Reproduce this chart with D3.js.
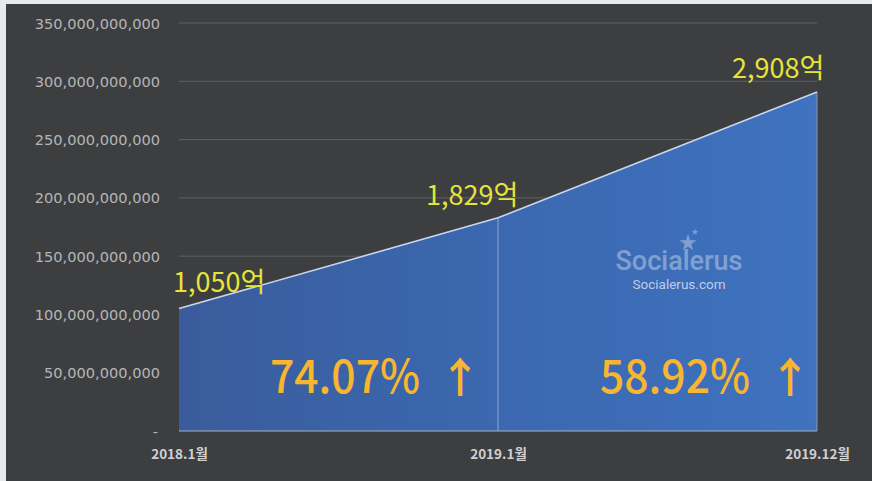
<!DOCTYPE html>
<html>
<head>
<meta charset="utf-8">
<script src="https://cdn.jsdelivr.net/npm/d3@7"></script>
<style>
  html, body { margin: 0; padding: 0; background: #e8e9eb; }
  svg { display: block; }
</style>
</head>
<body>
<svg id="chart" width="872" height="481"></svg>
<script>
// Monthly totals (KRW)
const categories = ["2018.1월", "2019.1월", "2019.12월"];
const values = [105000000000, 182900000000, 290800000000];
const valueLabels = ["1,050억", "1,829억", "2,908억"];
const growthLabels = ["74.07%", "58.92%"];
const yTicks = [0, 50000000000, 100000000000, 150000000000, 200000000000, 250000000000, 300000000000, 350000000000];

const svg = d3.select("#chart");
const W = 872, H = 481;

// dark panel
svg.append("rect").attr("x", 6).attr("y", 4).attr("width", W - 6).attr("height", H - 4).attr("fill", "#3d3e40");

const x = d3.scalePoint().domain(categories).range([179, 817]);
const y = d3.scaleLinear().domain([0, 350000000000]).range([431, 23]);

const fmt = d3.format(",");

// gridlines
svg.append("g").selectAll("line").data(yTicks.filter(d => d > 0)).join("line")
  .attr("x1", 179).attr("x2", 817)
  .attr("y1", d => y(d)).attr("y2", d => y(d))
  .attr("stroke", "#5f6062").attr("stroke-width", 1);

// y-axis labels
const yAxis = d3.axisLeft(y).tickValues(yTicks).tickSize(0).tickPadding(0)
  .tickFormat(d => d === 0 ? "-" : fmt(d));
const ya = svg.append("g").attr("transform", "translate(160,0)").call(yAxis);
ya.select(".domain").remove();
ya.selectAll("text")
  .attr("fill", "#b4b5b7")
  .attr("font-family", "'DejaVu Sans', sans-serif")
  .attr("font-size", 14.6)
  .attr("dy", "0.35em");
ya.selectAll(".tick").filter(d => d === 0).select("text").attr("x", -2);

// area fill
const defs = svg.append("defs");
const grad = defs.append("linearGradient").attr("id", "areaGrad")
  .attr("x1", "0").attr("x2", "1").attr("y1", "0").attr("y2", "0");
grad.append("stop").attr("offset", "0%").attr("stop-color", "#3a5c9c");
grad.append("stop").attr("offset", "50%").attr("stop-color", "#3b68b0");
grad.append("stop").attr("offset", "100%").attr("stop-color", "#3f72bf");

const pts = categories.map((c, i) => ({ c, v: values[i] }));

const area = d3.area().x(d => x(d.c)).y0(y(0)).y1(d => y(d.v));
svg.append("path").datum(pts).attr("d", area).attr("fill", "url(#areaGrad)");

// bottom edge and right edge
svg.append("line").attr("x1", x(categories[0])).attr("x2", x(categories[2]))
  .attr("y1", y(0)).attr("y2", y(0)).attr("stroke", "#a9b0bd").attr("stroke-width", 1.2);
svg.append("line").attr("x1", x(categories[2])).attr("x2", x(categories[2]))
  .attr("y1", y(values[2])).attr("y2", y(0)).attr("stroke", "#8a97b0").attr("stroke-width", 1);

// divider at middle category
svg.append("line").attr("x1", x(categories[1])).attr("x2", x(categories[1]))
  .attr("y1", y(values[1])).attr("y2", y(0)).attr("stroke", "#8ea6d2").attr("stroke-width", 1);

// top line
const line = d3.line().x(d => x(d.c)).y(d => y(d.v));
svg.append("path").datum(pts).attr("d", line)
  .attr("fill", "none").attr("stroke", "#c9d5ec").attr("stroke-width", 1.6);

// watermark
const wm = svg.append("g").attr("opacity", 0.35);
wm.append("text").attr("x", 679).attr("y", 270).attr("text-anchor", "middle")
  .attr("font-family", "Roboto, 'Open Sans', sans-serif").attr("font-weight", 500)
  .attr("font-size", 27).attr("fill", "#ffffff").text("Socialerus");
const star = d3.symbol().type(d3.symbolStar);
wm.append("path").attr("d", star.size(90)()).attr("transform", "translate(688,243)").attr("fill", "#ffffff");
wm.append("path").attr("d", star.size(14)()).attr("transform", "translate(695,232)").attr("fill", "#ffffff");
svg.append("text").attr("x", 679).attr("y", 289).attr("text-anchor", "middle")
  .attr("font-family", "Roboto, 'Open Sans', sans-serif")
  .attr("font-size", 13.5).attr("fill", "#d6def0").attr("opacity", 0.85).text("Socialerus.com");

// x-axis labels
const xAxis = d3.axisBottom(x).tickSize(0).tickPadding(0);
const xa = svg.append("g").attr("transform", "translate(0,449)").call(xAxis);
xa.select(".domain").remove();
xa.selectAll("text")
  .attr("fill", "#d0d1d3")
  .attr("font-family", "'Noto Sans CJK KR', sans-serif")
  .attr("font-weight", 700)
  .attr("font-size", 13.5)
  .attr("dy", "0.71em");

// value labels
const labelPos = [
  { dx: -6, y: 292 },
  { dx: -72, y: 205 },
  { dx: -85, y: 78 }
];
svg.append("g").selectAll("text").data(valueLabels).join("text")
  .attr("x", (d, i) => x(categories[i]) + labelPos[i].dx)
  .attr("y", (d, i) => labelPos[i].y)
  .attr("text-anchor", "start")
  .attr("font-family", "'Noto Sans CJK KR', sans-serif")
  .attr("font-size", 27)
  .attr("fill", "#e6e43a")
  .text(d => d);

// growth labels between categories, each followed by an up arrow
const gx = [270, 600];
const gg = svg.append("g").selectAll("g").data(growthLabels).join("g")
  .attr("transform", (d, i) => `translate(${gx[i]},393)`);
gg.append("text")
  .attr("font-family", "'Noto Sans CJK KR', sans-serif")
  .attr("font-size", 46)
  .attr("font-weight", 500)
  .attr("fill", "#f7b530")
  .attr("textLength", 150)
  .attr("lengthAdjust", "spacingAndGlyphs")
  .text(d => d);
gg.append("text")
  .attr("x", 169)
  .attr("font-family", "'Noto Sans CJK KR', sans-serif")
  .attr("font-size", 42)
  .attr("font-weight", 700)
  .attr("fill", "#f7b530")
  .text("↑");
</script>
</body>
</html>
